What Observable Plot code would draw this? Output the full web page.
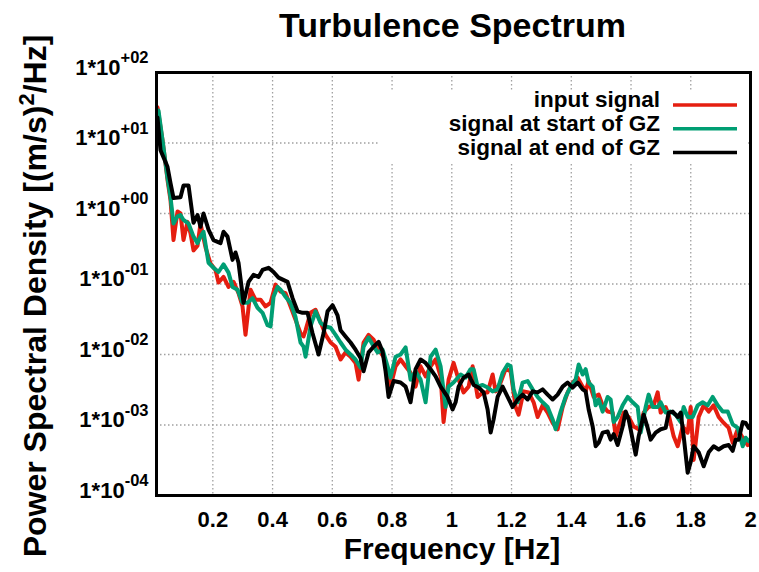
<!DOCTYPE html>
<html><head><meta charset="utf-8">
<script src="https://cdn.jsdelivr.net/npm/d3@7"></script>
<script src="https://cdn.jsdelivr.net/npm/@observablehq/plot@0.6"></script>
<style>
body{margin:0;background:#fff;font-family:"Liberation Sans",Arial,sans-serif;}
#title{height:50px;line-height:50px;font-size:34px;font-weight:bold;padding-left:146px;width:613px;text-align:center;color:#000;}
</style></head><body>
<div id="title">Turbulence Spectrum</div>
<div id="chart"></div>
<script>
const titleText = "Turbulence Spectrum";
const xLabel = "Frequency [Hz]";
const yLabelParts = ["Power Spectral Density [(m/s)", "2", "/Hz]"];
const seriesNames = ["input signal", "signal at start of GZ", "signal at end of GZ"];
const seriesColors = ["#e51e10", "#009e73", "#000000"];

const xTicks = [0.2, 0.4, 0.6, 0.8, 1, 1.2, 1.4, 1.6, 1.8, 2];
const xTickLabels = ["0.2", "0.4", "0.6", "0.8", "1", "1.2", "1.4", "1.6", "1.8", "2"];
const yTicks = [1e-4, 1e-3, 1e-2, 1e-1, 1e0, 1e1, 1e2];
const yTickLabels = ["1*10^-04", "1*10^-03", "1*10^-02", "1*10^-01", "1*10^+00", "1*10^+01", "1*10^+02"];

const inputFreq = [0.0147,0.0315,0.0482,0.0583,0.0683,0.0817,0.0918,0.1018,0.1152,0.1253,0.1353,0.1487,0.1587,0.1755,0.1922,0.2090,0.2190,0.2358,0.2525,0.2693,0.2860,0.2994,0.3094,0.3262,0.3429,0.3597,0.3764,0.3932,0.4099,0.4267,0.4434,0.4602,0.4769,0.4936,0.5037,0.5104,0.5271,0.5439,0.5606,0.5774,0.5941,0.6109,0.6276,0.6443,0.6611,0.6778,0.6879,0.7046,0.7214,0.7381,0.7549,0.7716,0.7850,0.7950,0.8118,0.8285,0.8453,0.8620,0.8788,0.8955,0.9123,0.9290,0.9458,0.9625,0.9725,0.9893,1.0060,1.0228,1.0395,1.0563,1.0697,1.0864,1.1032,1.1199,1.1367,1.1467,1.1634,1.1802,1.1969,1.2137,1.2237,1.2405,1.2572,1.2740,1.2873,1.3041,1.3208,1.3376,1.3543,1.3711,1.3878,1.4046,1.4213,1.4381,1.4481,1.4582,1.4749,1.4917,1.5050,1.5218,1.5385,1.5486,1.5586,1.5754,1.5921,1.6089,1.6256,1.6424,1.6591,1.6758,1.6892,1.6993,1.7160,1.7261,1.7428,1.7562,1.7730,1.7897,1.7998,1.8098,1.8265,1.8433,1.8600,1.8767,1.8935,1.9103,1.9270,1.9404,1.9572,1.9739,1.9907];
const inputPsd = [32,11,3.0,1.55,0.42,1.07,1.0,0.42,0.76,0.52,0.30,0.35,0.72,0.33,0.195,0.158,0.105,0.126,0.091,0.107,0.074,0.048,0.019,0.083,0.060,0.060,0.048,0.054,0.098,0.078,0.074,0.048,0.031,0.020,0.018,0.022,0.039,0.043,0.029,0.019,0.0148,0.0129,0.0085,0.0107,0.0093,0.0076,0.0044,0.0148,0.019,0.0162,0.0117,0.0093,0.0062,0.0035,0.0068,0.0085,0.0068,0.0055,0.0035,0.0068,0.0049,0.0068,0.0085,0.0049,0.0011,0.0044,0.0076,0.0044,0.0029,0.0035,0.0068,0.0025,0.0029,0.0029,0.0052,0.0030,0.0040,0.0062,0.0058,0.0018,0.0014,0.0030,0.0029,0.0021,0.0013,0.0019,0.0015,0.00107,0.00087,0.0018,0.0029,0.0040,0.0047,0.0035,0.0030,0.0042,0.0025,0.0027,0.0019,0.00155,0.0015,0.00069,0.00095,0.0015,0.0013,0.00095,0.00087,0.0015,0.0018,0.0019,0.0029,0.0015,0.0018,0.0014,0.00069,0.0005,0.00095,0.00078,0.0018,0.00032,0.0013,0.0019,0.00155,0.0019,0.0013,0.00107,0.00091,0.00056,0.00087,0.00066,0.00052];

const startFreq = [0.0181,0.0315,0.0482,0.0583,0.0683,0.0817,0.0918,0.1018,0.1186,0.1353,0.1487,0.1587,0.1688,0.1855,0.2023,0.2190,0.2358,0.2525,0.2659,0.2827,0.2994,0.3161,0.3329,0.3496,0.3664,0.3831,0.3932,0.4032,0.4166,0.4267,0.4434,0.4602,0.4769,0.4936,0.5037,0.5104,0.5271,0.5439,0.5606,0.5774,0.5941,0.6109,0.6276,0.6443,0.6611,0.6778,0.6946,0.7046,0.7214,0.7348,0.7515,0.7683,0.7850,0.7950,0.8118,0.8285,0.8453,0.8620,0.8788,0.8955,0.9123,0.9290,0.9458,0.9625,0.9792,0.9893,1.0060,1.0295,1.0462,1.0630,1.0730,1.0864,1.1032,1.1199,1.1367,1.1534,1.1701,1.1869,1.1969,1.2070,1.2204,1.2371,1.2539,1.2706,1.2873,1.3041,1.3208,1.3376,1.3476,1.3644,1.3811,1.3979,1.4146,1.4247,1.4381,1.4481,1.4582,1.4716,1.4816,1.4917,1.5050,1.5218,1.5318,1.5419,1.5553,1.5720,1.5888,1.6055,1.6223,1.6323,1.6491,1.6591,1.6725,1.6892,1.6993,1.7160,1.7328,1.7495,1.7663,1.7763,1.7897,1.8065,1.8232,1.8399,1.8567,1.8734,1.8901,1.9069,1.9237,1.9404,1.9572,1.9739,1.9840,1.9940];
const startPsd = [29,11,3.2,1.7,0.72,0.91,0.95,0.81,0.72,0.47,0.38,0.47,0.55,0.20,0.17,0.148,0.19,0.145,0.091,0.083,0.054,0.054,0.063,0.046,0.039,0.026,0.025,0.066,0.091,0.083,0.066,0.054,0.034,0.0148,0.0129,0.0093,0.025,0.041,0.028,0.025,0.024,0.019,0.0148,0.0117,0.010,0.0085,0.0065,0.0129,0.0174,0.0138,0.0107,0.0117,0.0068,0.0047,0.0093,0.010,0.0126,0.0044,0.0058,0.0044,0.0021,0.0093,0.0117,0.0068,0.0018,0.0035,0.0040,0.0052,0.0047,0.0062,0.0062,0.0035,0.0037,0.0034,0.0030,0.0032,0.0055,0.0072,0.0068,0.0032,0.0021,0.0040,0.0042,0.0032,0.0025,0.0021,0.0018,0.0012,0.00087,0.00155,0.0025,0.0035,0.0044,0.0072,0.0052,0.0062,0.0040,0.0035,0.0019,0.0023,0.00155,0.0025,0.0023,0.0011,0.0013,0.0019,0.0025,0.0021,0.0018,0.00078,0.0018,0.0027,0.0018,0.0018,0.0021,0.0015,0.00155,0.0014,0.0011,0.0018,0.0013,0.0013,0.0019,0.0021,0.0019,0.0025,0.0019,0.00155,0.00155,0.00102,0.00091,0.0005,0.00066,0.00059];

const endFreq = [0.0147,0.0248,0.0482,0.0583,0.0683,0.0918,0.1018,0.1186,0.1353,0.1487,0.1587,0.1688,0.1855,0.2023,0.2257,0.2358,0.2492,0.2659,0.2760,0.2860,0.3027,0.3195,0.3362,0.3530,0.3664,0.3865,0.4032,0.4200,0.4501,0.4669,0.4836,0.5003,0.5171,0.5338,0.5539,0.5707,0.5840,0.6008,0.6175,0.6276,0.6443,0.6611,0.6778,0.6946,0.7046,0.7214,0.7381,0.7549,0.7683,0.7783,0.7884,0.8051,0.8285,0.8453,0.8620,0.8788,0.8955,0.9123,0.9290,0.9458,0.9625,0.9859,1.0027,1.0127,1.0228,1.0395,1.0563,1.0730,1.0898,1.1065,1.1199,1.1300,1.1400,1.1534,1.1701,1.1869,1.2036,1.2204,1.2371,1.2539,1.2706,1.2873,1.3041,1.3208,1.3376,1.3543,1.3711,1.3878,1.4046,1.4213,1.4381,1.4481,1.4582,1.4716,1.4816,1.4917,1.5050,1.5218,1.5318,1.5419,1.5553,1.5720,1.5821,1.5921,1.6055,1.6156,1.6256,1.6424,1.6557,1.6658,1.6825,1.6993,1.7160,1.7261,1.7395,1.7562,1.7663,1.7763,1.7897,1.7998,1.8098,1.8265,1.8433,1.8600,1.8767,1.8935,1.9103,1.9270,1.9404,1.9505,1.9605,1.9739,1.9840,1.9940];
const endPsd = [23,7.9,4.6,2.7,1.66,1.7,2.5,2.5,0.74,0.95,0.65,1.0,0.59,0.42,0.38,0.55,0.47,0.22,0.28,0.20,0.054,0.107,0.135,0.126,0.158,0.17,0.148,0.123,0.107,0.063,0.041,0.039,0.039,0.020,0.010,0.020,0.041,0.050,0.036,0.022,0.018,0.0148,0.0117,0.0089,0.0058,0.0107,0.0129,0.0151,0.011,0.0058,0.0025,0.0042,0.0040,0.0035,0.0021,0.0062,0.0085,0.0076,0.0062,0.0049,0.0035,0.0025,0.00166,0.0021,0.0035,0.0047,0.0052,0.0037,0.0034,0.0029,0.00166,0.00078,0.0012,0.0025,0.0035,0.0025,0.0018,0.0023,0.0027,0.0023,0.0030,0.0029,0.0032,0.0027,0.0023,0.0027,0.0035,0.0040,0.0034,0.0040,0.0032,0.0030,0.00166,0.00095,0.0005,0.00056,0.00078,0.00081,0.00062,0.00074,0.00052,0.00095,0.00155,0.0012,0.00062,0.00038,0.00069,0.0014,0.00091,0.00062,0.00078,0.00087,0.00091,0.0015,0.00155,0.0013,0.0015,0.00069,0.00021,0.0003,0.0005,0.00041,0.00026,0.00041,0.0005,0.00045,0.0005,0.00052,0.00043,0.00062,0.00062,0.0011,0.00107,0.00091];

const toRows = (fs, ps) => fs.map((f, i) => ({f, psd: ps[i]}));
const inputRows = toRows(inputFreq, inputPsd);
const startRows = toRows(startFreq, startPsd);
const endRows = toRows(endFreq, endPsd);

const xLabelMap = new Map(xTicks.map((t, i) => [t, xTickLabels[i]]));
const yLabelMap = new Map(yTicks.map((t, i) => [t, yTickLabels[i]]));

const gridStyle = {stroke: "#a0a0a0", strokeOpacity: 1, strokeWidth: 1.3, strokeDasharray: "1.5,2.5"};

const chart = Plot.plot({
  width: 759,
  height: 522,
  marginTop: 22,
  marginBottom: 77,
  marginLeft: 156,
  marginRight: 9,
  style: {fontFamily: "'Liberation Sans', Arial, sans-serif", fontSize: "22px", fontWeight: "bold", color: "black", background: "white", overflow: "visible"},
  x: {domain: [0.0114, 2]},
  y: {type: "log", domain: [1e-4, 1e2]},
  marks: [
    Plot.gridX(xTicks, gridStyle),
    Plot.gridY(yTicks, gridStyle),
    Plot.line(inputRows, {x: "f", y: "psd", stroke: seriesColors[0], strokeWidth: 4}),
    Plot.line(startRows, {x: "f", y: "psd", stroke: seriesColors[1], strokeWidth: 4}),
    Plot.line(endRows, {x: "f", y: "psd", stroke: seriesColors[2], strokeWidth: 4}),
    Plot.axisX(xTicks, {tickSize: 0, tickPadding: 16, tickFormat: d => xLabelMap.get(d), label: null, fontSize: 22}),
    Plot.axisY(yTicks, {tickSize: 0, tickPadding: 8, tickFormat: d => yLabelMap.get(d), label: null, fontSize: 22, dy: -5}),
    Plot.frame({stroke: "black", strokeWidth: 3})
  ]
});
document.getElementById("chart").appendChild(chart);

const svg = d3.select(chart);
svg.selectAll('g[aria-label="y-axis tick label"] text').each(function () {
  const t = d3.select(this);
  const parts = t.text().split("^");
  t.text(null);
  t.append("tspan").text(parts[0]);
  t.append("tspan").attr("dy", -11.5).attr("font-size", 16.5).text(parts[1]);
});

const yl = svg.append("text")
  .attr("transform", "translate(46,246) rotate(-90)")
  .attr("text-anchor", "middle").attr("font-size", 32).attr("font-weight", "bold").attr("fill", "black");
yl.append("tspan").text(yLabelParts[0]);
yl.append("tspan").attr("dy", -12).attr("font-size", 22).text(yLabelParts[1]);
yl.append("tspan").attr("dy", 12).text(yLabelParts[2]);

svg.append("text").attr("x", 452).attr("y", 509).attr("text-anchor", "middle")
  .attr("font-size", 30).attr("font-weight", "bold").attr("fill", "black").text(xLabel);

const legend = svg.append("g");
legend.append("rect").attr("x", 378).attr("y", 40).attr("width", 368).attr("height", 72).attr("fill", "white");
seriesNames.forEach((name, i) => {
  legend.append("text").attr("x", 660).attr("y", 56.7 + i * 24.2).attr("text-anchor", "end")
    .attr("font-size", 22.5).attr("font-weight", "bold").attr("fill", "black").text(name);
  legend.append("line").attr("x1", 673).attr("x2", 737)
    .attr("y1", 55 + i * 23.8).attr("y2", 55 + i * 23.8)
    .attr("stroke", seriesColors[i]).attr("stroke-width", 3.5);
});
</script>
</body></html>
